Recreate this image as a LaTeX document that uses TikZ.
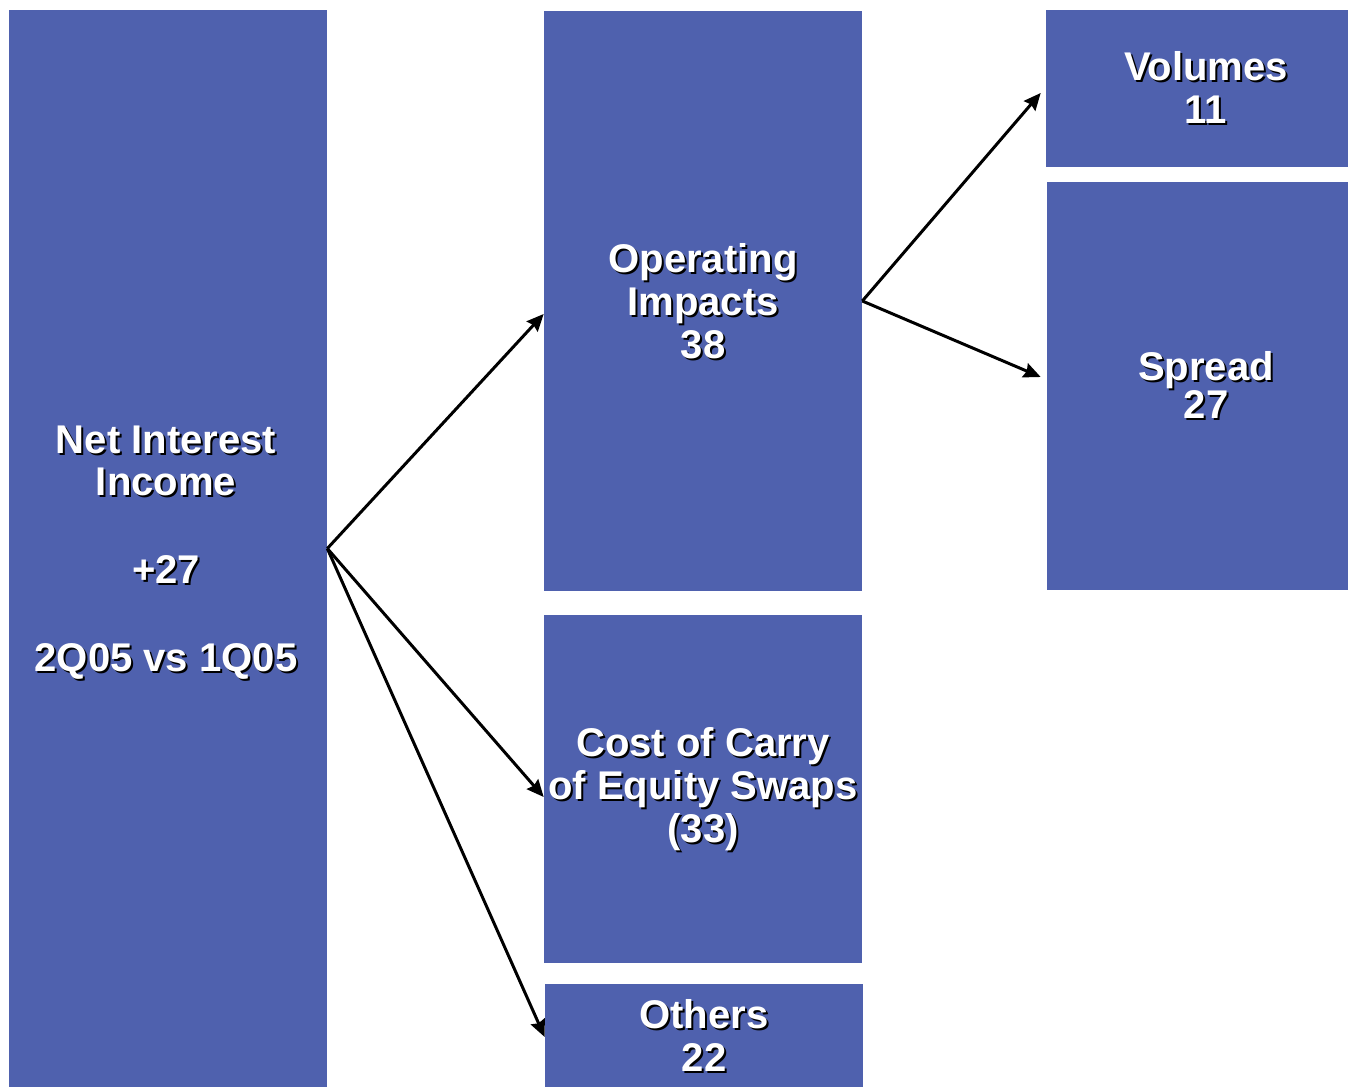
\documentclass[tikz,border=0pt]{standalone}
\usepackage{fontspec}
\setmainfont{Liberation Sans}
\usetikzlibrary{arrows.meta}

\definecolor{boxblue}{RGB}{79,97,174}
\tikzstyle{card} = [rectangle,
					fill=boxblue,
					inner sep=0pt,
				   ]
\tikzstyle{cardlbl} = [align=center,
					   text=white,
					   inner sep=0pt,
					   font=\fontsize{22.8}{24.4}\selectfont\bfseries,
					  ]
\tikzstyle{arrow} = [line width=1.7pt,-{Stealth[length=0.34cm,width=0.3cm,inset=0.04cm]}]

% white label with a black drop shadow on top of a card,
% optional first argument moves the label off the card centre
\newcommand{\cardtext}[3][0,0]{%
  \node (#2_sh) [cardlbl, text=black] at ([shift={(#1)}, shift={(0.04cm,-0.04cm)}]#2.center) {#3};
  \node (#2_lbl) [cardlbl] at ([shift={(#1)}]#2.center) {#3};
}

\begin{document}
\begin{tikzpicture}[x=0.02cm, y=-0.02cm]
\useasboundingbox (0,0) rectangle (1348,1087);

\node (nii) [card, minimum width=6.36cm, minimum height=21.54cm] at (168,548.5) {};
\node (ops) [card, minimum width=6.36cm, minimum height=11.6cm] at (703,301) {};
\node (carry) [card, minimum width=6.36cm, minimum height=6.96cm] at (703,789) {};
\node (others) [card, minimum width=6.36cm, minimum height=2.06cm] at (704,1035.5) {};
\node (vol) [card, minimum width=6.04cm, minimum height=3.14cm] at (1197,88.5) {};
\node (spread) [card, minimum width=6.02cm, minimum height=8.16cm] at (1197.5,386) {};

\cardtext[-2,4]{nii}{Net Interest\\Income\\[0.9cm]+27\\[0.9cm]2Q05 vs 1Q05}
\cardtext{ops}{Operating\\Impacts\\38}
\cardtext{carry}{Cost of Carry\\of Equity Swaps\\(33)}
\cardtext{others}{Others\\22}
\cardtext[9,-1]{vol}{Volumes\\11}
\cardtext[8.5,-1]{spread}{Spread\\[-0.08cm]27}

\draw [arrow] (nii.east) -- ([yshift=-0.26cm]ops.west);
\draw [arrow] (nii.east) -- ([yshift=-0.16cm]carry.west);
\draw [arrow] (nii.east) -- ([yshift=-0.03cm]others.west);
\draw [arrow] (ops.east) -- ([shift={(-0.1cm,-0.09cm)}]vol.west);
\draw [arrow] (ops.east) -- ([shift={(-0.12cm,0.18cm)}]spread.west);

\end{tikzpicture}
\end{document}
